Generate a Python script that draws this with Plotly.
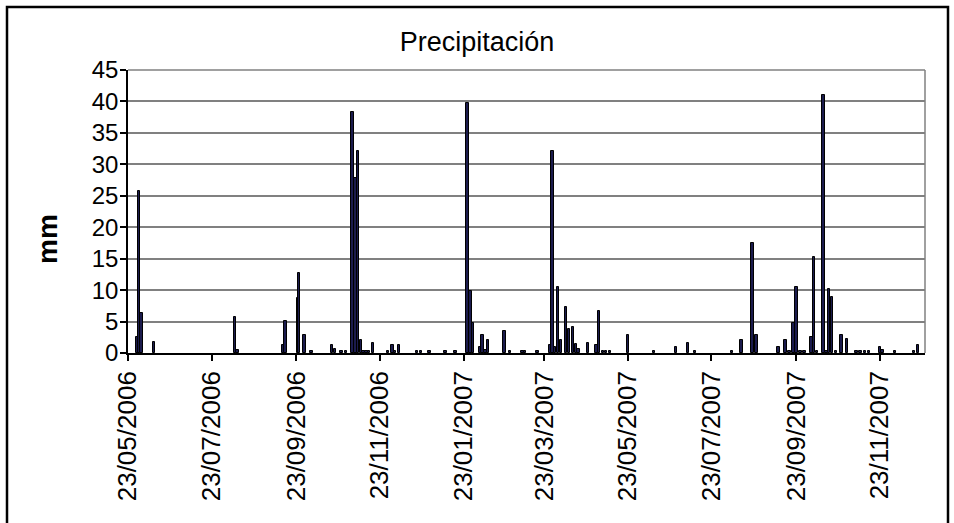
import plotly.graph_objects as go

# Daily precipitation records (mm)
dates = [
    "2006-05-30", "2006-05-31", "2006-06-02", "2006-06-11",
    "2006-08-09", "2006-08-11",
    "2006-09-13", "2006-09-15", "2006-09-24", "2006-09-25", "2006-09-29",
    "2006-10-04", "2006-10-19", "2006-10-21", "2006-10-26", "2006-10-29",
    "2006-11-03", "2006-11-05", "2006-11-07", "2006-11-09", "2006-11-11",
    "2006-11-13", "2006-11-15", "2006-11-18", "2006-11-29",
    "2006-12-02", "2006-12-04", "2006-12-07", "2006-12-20", "2006-12-23",
    "2006-12-29",
    "2007-01-10", "2007-01-17", "2007-01-26", "2007-01-28", "2007-01-30",
    "2007-02-04", "2007-02-06", "2007-02-08", "2007-02-10", "2007-02-22",
    "2007-02-26",
    "2007-03-07", "2007-03-09", "2007-03-18", "2007-03-27", "2007-03-29",
    "2007-03-31",
    "2007-04-02", "2007-04-04", "2007-04-08", "2007-04-10", "2007-04-13",
    "2007-04-15", "2007-04-17", "2007-04-24", "2007-04-30",
    "2007-05-02", "2007-05-05", "2007-05-07", "2007-05-10", "2007-05-23",
    "2007-06-11", "2007-06-27",
    "2007-07-06", "2007-07-11",
    "2007-08-07", "2007-08-14", "2007-08-22", "2007-08-25",
    "2007-09-10", "2007-09-15", "2007-09-18", "2007-09-21", "2007-09-23",
    "2007-09-26", "2007-09-29",
    "2007-10-04", "2007-10-06", "2007-10-08", "2007-10-13", "2007-10-15",
    "2007-10-17", "2007-10-19", "2007-10-22", "2007-10-26", "2007-10-30",
    "2007-11-06", "2007-11-09", "2007-11-12", "2007-11-15", "2007-11-23",
    "2007-11-25",
    "2007-12-04", "2007-12-18", "2007-12-21",
]
precip_mm = [
    2.5, 25.7, 6.3, 1.7,
    5.7, 0.4,
    1.3, 5.1, 8.8, 12.7, 2.9,
    0.3, 1.3, 0.7, 0.3, 0.3,
    38.4, 27.9, 32.2, 2.0, 0.3,
    0.3, 0.3, 1.6, 0.3,
    1.3, 0.3, 1.3, 0.3, 0.3,
    0.3,
    0.3, 0.3, 39.7, 9.8, 4.8,
    1.0, 2.8, 0.5, 2.0, 3.5,
    0.3,
    0.3, 0.3, 0.3, 1.3, 32.2,
    1.0,
    10.5, 2.0, 7.3, 3.8, 4.1,
    1.5, 0.7, 1.6, 1.3,
    6.7, 0.3, 0.3, 0.3, 2.9,
    0.3, 0.95,
    1.6, 0.3,
    0.3, 2.0, 17.5, 2.9,
    0.95, 2.0, 0.3, 4.8, 10.5,
    0.3, 0.3,
    2.6, 15.3, 0.3, 41.0, 0.3,
    10.1, 8.9, 0.3, 2.9, 2.3,
    0.3, 0.3, 0.3, 0.3, 0.95,
    0.5,
    0.3, 0.3, 1.3,
]

axis_start = "2006-05-23"
axis_end = "2007-12-26"
y_ticks = [0, 5, 10, 15, 20, 25, 30, 35, 40, 45]

FONT = "Arial, 'Liberation Sans', sans-serif"
DAY_MS = 86400000

fig = go.Figure()
fig.add_trace(go.Bar(
    x=dates,
    y=precip_mm,
    width=[1.8 * DAY_MS] * len(dates),
    marker=dict(color="#1b1b4d", line=dict(color="black", width=1)),
    showlegend=False,
    hoverinfo="x+y",
))

# plot area occupies pixels x 128..925, y 70..353
L, R, T, B = 128, 29, 70, 170
W, H = 954, 523
pw, ph = W - L - R, H - T - B

def px_x(p):
    return (p - L) / pw

def px_y(p):
    return (H - B - p) / ph

shapes = [
    # outer chart frame
    dict(type="rect", xref="paper", yref="paper",
         x0=px_x(7), x1=px_x(948), y0=px_y(540), y1=px_y(7),
         line=dict(color="black", width=2.5), fillcolor="rgba(0,0,0,0)",
         layer="above"),
    # plot area border (top and right)
    dict(type="line", xref="paper", yref="paper", x0=0, x1=1, y0=1, y1=1,
         line=dict(color="#808080", width=1.5)),
    dict(type="line", xref="paper", yref="paper", x0=1, x1=1, y0=0, y1=1,
         line=dict(color="#808080", width=1.5)),
]

fig.update_layout(
    width=W, height=H,
    margin=dict(l=L, r=R, t=T, b=B, pad=0),
    paper_bgcolor="white",
    plot_bgcolor="white",
    font=dict(family=FONT, color="black"),
    title=dict(text="Precipitación", x=0.5, xref="container", xanchor="center",
               y=1 - 42 / H, yref="container", yanchor="middle",
               font=dict(size=27, family=FONT, color="black")),
    shapes=shapes,
    annotations=[
        dict(text="<b>mm</b>", xref="paper", yref="paper",
             x=px_x(47), y=px_y(239), showarrow=False, textangle=-90,
             font=dict(size=28, family=FONT, color="black"),
             xanchor="center", yanchor="middle"),
    ],
    bargap=0,
)

fig.update_xaxes(
    type="date",
    range=[axis_start, axis_end],
    tick0=axis_start,
    dtick="M2",
    tickformat="%d/%m/%Y",
    tickangle=-90,
    ticks="outside",
    ticklen=6,
    tickwidth=1.5,
    tickcolor="black",
    showline=True,
    linecolor="black",
    linewidth=1.5,
    showgrid=False,
    zeroline=False,
    tickfont=dict(size=26, family=FONT, color="black"),
)

fig.update_yaxes(
    range=[0, 45],
    tickvals=y_ticks,
    ticks="outside",
    ticklen=6,
    tickwidth=1.5,
    tickcolor="black",
    ticklabelstandoff=-3,
    showline=True,
    linecolor="black",
    linewidth=1.5,
    showgrid=True,
    gridcolor="#808080",
    gridwidth=1.5,
    zeroline=False,
    tickfont=dict(size=24, family=FONT, color="black"),
)

fig.write_html("out.html")
